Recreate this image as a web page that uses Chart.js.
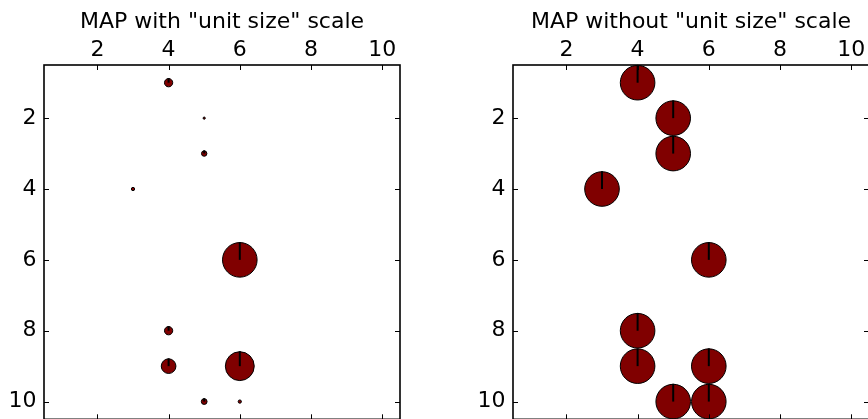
<!DOCTYPE html>
<html>
<head>
<meta charset="utf-8">
<script src="https://cdn.jsdelivr.net/npm/chart.js@4/dist/chart.umd.min.js"></script>
<style>
  html, body { margin: 0; padding: 0; background: #fff; overflow: hidden; width: 868px; height: 419px; }
  canvas { position: absolute; top: 0; }
  #c1 { left: 0; }
  #c2 { left: 469px; }
</style>
</head>
<body>
<canvas id="c1" width="434" height="440"></canvas>
<canvas id="c2" width="420" height="440"></canvas>
<script>
// Point positions (column, row)
const colValues = [4, 5, 5, 3, 6, 4, 4, 6, 5, 6];
const rowValues = [1, 2, 3, 4, 6, 8, 9, 9, 10, 10];
// Marker diameters in axis units
const scaledSizes = [0.26, 0.09, 0.18, 0.12, 1.0, 0.26, 0.44, 0.84, 0.19, 0.12];
const plainSizes  = [1, 1, 1, 1, 1, 1, 1, 1, 1, 1];
// Tick labels
const xTicks = [2, 4, 6, 8, 10];
const yTicks = [2, 4, 6, 8, 10];
const titles = ['MAP with "unit size" scale', 'MAP without "unit size" scale'];

const FONT = 'DejaVu Sans, Liberation Sans, Arial, sans-serif';
const FONT_SIZE = 22;
const TEXT = '#000';

// Closed axes box with inward tick marks on all four sides, plus a needle on each marker
const framePlugin = {
  id: 'frame',
  afterDatasetsDraw(chart) {
    const ctx = chart.ctx;
    const a = chart.chartArea;
    const sx = chart.scales.x, sy = chart.scales.y;
    ctx.save();
    // needles: from marker centre to its top edge
    ctx.strokeStyle = '#000';
    ctx.lineWidth = 2;
    chart.getDatasetMeta(0).data.forEach(pt => {
      const r = pt.options.radius;
      if (r < 2) return;
      ctx.beginPath();
      ctx.moveTo(pt.x, pt.y);
      ctx.lineTo(pt.x, pt.y - r - 0.5);
      ctx.stroke();
    });
    // box
    ctx.lineWidth = 1.6;
    ctx.strokeRect(a.left, a.top, a.right - a.left, a.bottom - a.top);
    // inward ticks
    const tl = 5;
    ctx.lineWidth = 1;
    ctx.beginPath();
    xTicks.forEach(v => {
      const px = Math.round(sx.getPixelForValue(v)) + 0.5;
      ctx.moveTo(px, a.top); ctx.lineTo(px, a.top + tl);
      ctx.moveTo(px, a.bottom); ctx.lineTo(px, a.bottom - tl);
    });
    yTicks.forEach(v => {
      const py = Math.round(sy.getPixelForValue(v)) + 0.5;
      ctx.moveTo(a.left, py); ctx.lineTo(a.left + tl, py);
      ctx.moveTo(a.right, py); ctx.lineTo(a.right - tl, py);
    });
    ctx.stroke();
    ctx.restore();
  }
};

function markerRadius(c, sizes) {
  const s = c.chart.scales.x;
  const d = Math.abs(s.getPixelForValue(sizes[c.dataIndex]) - s.getPixelForValue(0));
  return Math.max(0.6, d / 2 - 0.5);
}

function makeChart(id, title, sizes, padRight) {
  const data = colValues.map((x, i) => ({ x: x, y: rowValues[i] }));
  return new Chart(document.getElementById(id), {
    type: 'scatter',
    data: {
      datasets: [{
        data: data,
        backgroundColor: '#800000',
        borderColor: '#000',
        borderWidth: 1,
        clip: false,
        pointRadius: (c) => markerRadius(c, sizes),
        pointHoverRadius: (c) => markerRadius(c, sizes)
      }]
    },
    options: {
      responsive: false,
      animation: false,
      events: [],
      layout: { padding: { left: 0, right: padRight, top: 0, bottom: 19 } },
      plugins: {
        legend: { display: false },
        tooltip: { enabled: false },
        title: {
          display: true,
          text: title,
          fullSize: false,
          color: TEXT,
          font: { family: FONT, size: FONT_SIZE, weight: 'normal' },
          padding: { top: 9, bottom: 1.6 }
        }
      },
      scales: {
        x: {
          type: 'linear',
          position: 'top',
          min: 0.5,
          max: 10.5,
          grid: { display: false, drawTicks: false },
          border: { display: false },
          afterBuildTicks: (s) => { s.ticks = xTicks.map(v => ({ value: v })); },
          afterFit: (s) => { s.height = 28; },
          ticks: { color: TEXT, padding: 2, font: { family: FONT, size: FONT_SIZE } }
        },
        y: {
          type: 'linear',
          reverse: true,
          min: 0.5,
          max: 10.5,
          grid: { display: false, drawTicks: false },
          border: { display: false },
          afterBuildTicks: (s) => { s.ticks = yTicks.map(v => ({ value: v })); },
          afterFit: (s) => { s.width = 44; },
          ticks: { color: TEXT, padding: 7.5, font: { family: FONT, size: FONT_SIZE } }
        }
      }
    },
    plugins: [framePlugin]
  });
}

makeChart('c1', titles[0], scaledSizes, 34);
makeChart('c2', titles[1], plainSizes, 20);
</script>
</body>
</html>
